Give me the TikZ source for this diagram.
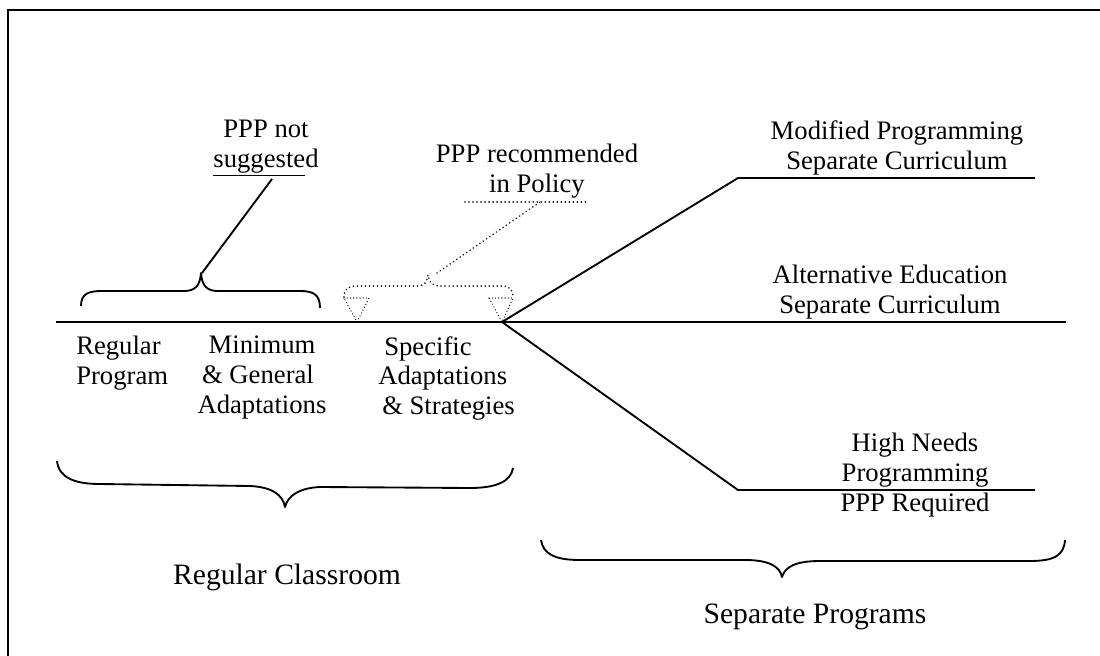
\documentclass[tikz,border=0pt]{standalone}
\usepackage{fontspec}
\setmainfont{Liberation Serif}
\begin{document}
\begin{tikzpicture}[x=0.75pt,y=-0.75pt,
  lbl/.style={inner sep=0pt,align=center,font=\fontsize{20}{22.2}\selectfont},
  lbll/.style={inner sep=0pt,align=left,font=\fontsize{20}{22.2}\selectfont},
  big/.style={inner sep=0pt,font=\fontsize{22.2}{26}\selectfont},
  solidline/.style={line width=1.4pt},
  dotline/.style={line width=1.3pt,dash pattern=on 0.01pt off 3pt,line cap=round},
  fineline/.style={line width=1pt,dash pattern=on 0.01pt off 2.4pt,line cap=round},
  brace/.style={line width=1.4pt,line join=round}]
\useasboundingbox (0,0) rectangle (1100,656);

% frame
\draw[line width=1.6pt] (8,670) -- (8,10) -- (1110,10);

% main continuum line and branches
\coordinate (L) at (56,322);
\coordinate (R) at (1066,322);
\coordinate (fork) at (502,322);
\coordinate (upk) at (738,178);
\coordinate (upe) at (1035,178);
\coordinate (dnk) at (738,490);
\coordinate (dne) at (1035,490);
\draw[solidline] (L) -- (R);
\draw[solidline,line join=miter] (fork) -- (upk) -- (upe);
\draw[solidline,line join=miter] (fork) -- (dnk) -- (dne);

% branch labels
\node[lbl] (modp) at (897,148) {Modified Programming\\Separate Curriculum};
\node[lbl] (alte) at (890,292) {Alternative Education\\Separate Curriculum};
\node[lbl] (high) at (915,475) {High Needs\\Programming\\PPP Required};

% labels below the line
\node[lbll,anchor=north west] (regp) at (76,336) {Regular\\Program};
\node[lbl,anchor=north] (minp) at (262,336) {Minimum\\\hspace*{-6pt}\& General\\Adaptations};
\node[lbll,anchor=north west] (spec) at (378,336) {\hspace*{4.5pt}Specific\\Adaptations\\\hspace*{3pt}\& Strategies};

% brace over the first two positions
\draw[brace] (81,306) .. controls (81,294) and (88,291) .. (102,291)
  -- (184,291) .. controls (195,291) and (200,286) .. (201,273)
  .. controls (202,286) and (207,291) .. (218,291)
  -- (300,291) .. controls (314,291) and (320,295) .. (320,308);
\coordinate (tipA) at (202,273);
\node[lbl] (notsug) at (266,148) {PPP not\\\underline{suggeste}d};
\coordinate (notsugend) at (272,179);
\draw[solidline] (notsugend) -- (tipA);

% dotted brace and markers
\draw[dotline] (344,297) .. controls (344,289) and (348,286) .. (357,286)
  -- (418,286) .. controls (424,286) and (427,282) .. (428,275)
  .. controls (429,282) and (432,286) .. (440,286)
  -- (502,286) .. controls (510,286) and (513,290) .. (513,297);
\draw[fineline] (344,298) -- (369,298) -- (357,322) -- cycle;
\draw[fineline] (489,298) -- (513,298) -- (502,322) -- cycle;
\coordinate (tipB) at (437,273);
\node[lbl] (rec) at (537,171) {PPP recommended\\in Policy};
\coordinate (recl) at (465,202);
\coordinate (recr) at (587,202);
\coordinate (recj) at (540,202);
\draw[dotline] (recl) -- (recr);
\draw[dotline] (tipB) -- (recj);

% group braces below
\draw[brace] (57,461) .. controls (59,478) and (75,484) .. (100,484)
  -- (250,486) .. controls (272,487) and (283,495) .. (285,507)
  .. controls (288,495) and (300,488) .. (320,487)
  -- (470,488) .. controls (495,488) and (511,482) .. (513,468);
\node[big] (regc) at (287,577) {Regular Classroom};

\draw[brace] (541,540) .. controls (543,554) and (555,560) .. (580,560)
  -- (745,560) .. controls (770,560) and (780,567) .. (782,577)
  .. controls (785,567) and (795,561) .. (820,561)
  -- (1030,561) .. controls (1055,561) and (1064,555) .. (1065,540);
\node[big] (sepp) at (815,617) {Separate Programs};
\end{tikzpicture}
\end{document}
